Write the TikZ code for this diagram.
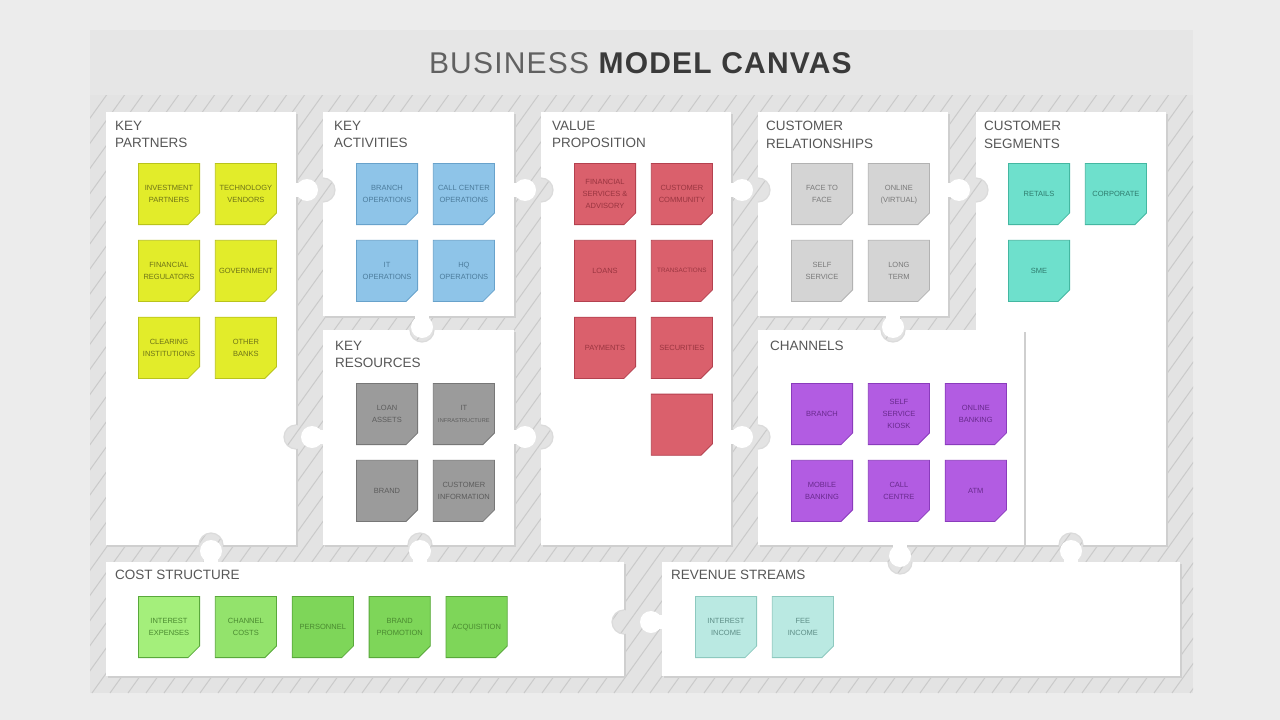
\documentclass[tikz,border=0pt]{standalone}
\usepackage{fontspec}
\setmainfont{Liberation Sans}
\newfontfamily\headfont[LetterSpace=4.0]{Liberation Sans}
\usetikzlibrary{positioning}

\definecolor{outerbg}{HTML}{ECECEC}
\definecolor{bandbg}{HTML}{E6E6E6}
\definecolor{hatchbase}{HTML}{E3E3E3}
\definecolor{hatchline}{HTML}{CACACA}
\definecolor{headgrey}{HTML}{3A3A3A}
\definecolor{cardgrey}{HTML}{575757}
\definecolor{cardshade}{HTML}{CFCFCF}
\definecolor{kpfill}{HTML}{E2EC2A}\definecolor{kpedge}{HTML}{B9C31C}\definecolor{kptext}{HTML}{6E7318}
\definecolor{kafill}{HTML}{8EC4E8}\definecolor{kaedge}{HTML}{68A2CB}\definecolor{katext}{HTML}{4C7C9C}
\definecolor{vpfill}{HTML}{DA606C}\definecolor{vpedge}{HTML}{B4414F}\definecolor{vptext}{HTML}{9A3540}
\definecolor{crfill}{HTML}{D4D4D4}\definecolor{credge}{HTML}{B2B2B2}\definecolor{crtext}{HTML}{7A7A7A}
\definecolor{csfill}{HTML}{6EE0CC}\definecolor{csedge}{HTML}{44B7A1}\definecolor{cstext}{HTML}{2F7C6E}
\definecolor{krfill}{HTML}{9B9B9B}\definecolor{kredge}{HTML}{777777}\definecolor{krtext}{HTML}{5C5C5C}
\definecolor{chfill}{HTML}{B25CE2}\definecolor{chedge}{HTML}{8A3BBC}\definecolor{chtext}{HTML}{692A8E}
\definecolor{cofill}{HTML}{7ED659}\definecolor{colight}{HTML}{A4EF7B}\definecolor{comid}{HTML}{93E36C}\definecolor{coedge}{HTML}{59A83B}\definecolor{cotext}{HTML}{4A8A30}
\definecolor{rsfill}{HTML}{BAE9E2}\definecolor{rsedge}{HTML}{8DC9BF}\definecolor{rstext}{HTML}{5E8E87}

% sticky note paper: square with the lower right corner cut off
\newcommand\notepaper[2]{%
	\filldraw[fill=#1, draw=#2, line width=0.8pt]
		([shift={(0.4pt,-0.4pt)}]path picture bounding box.north west)
		-- ([shift={(-0.4pt,-0.4pt)}]path picture bounding box.north east)
		-- ([shift={(-0.4pt,12pt)}]path picture bounding box.south east)
		-- ([shift={(-12pt,0.4pt)}]path picture bounding box.south east)
		-- ([shift={(0.4pt,0.4pt)}]path picture bounding box.south west) -- cycle;
}
% note text in a box of zero width, so every note keeps the same size
\newcommand\notetext[1]{\hbox to 0pt{\hss\begin{tabular}{@{}c@{}}#1\end{tabular}\hss}}

\tikzstyle{note} = [rectangle, minimum width=62pt, minimum height=62pt, inner sep=0pt, font=\fontsize{7.5}{12}\selectfont]
\tikzstyle{kpnote} = [note, path picture={\notepaper{kpfill}{kpedge}}, text=kptext]
\tikzstyle{kanote} = [note, path picture={\notepaper{kafill}{kaedge}}, text=katext]
\tikzstyle{vpnote} = [note, path picture={\notepaper{vpfill}{vpedge}}, text=vptext]
\tikzstyle{crnote} = [note, path picture={\notepaper{crfill}{credge}}, text=crtext]
\tikzstyle{csnote} = [note, path picture={\notepaper{csfill}{csedge}}, text=cstext]
\tikzstyle{krnote} = [note, path picture={\notepaper{krfill}{kredge}}, text=krtext]
\tikzstyle{chnote} = [note, path picture={\notepaper{chfill}{chedge}}, text=chtext]
\tikzstyle{conote} = [note, path picture={\notepaper{cofill}{coedge}}, text=cotext]
\tikzstyle{colightnote} = [note, path picture={\notepaper{colight}{coedge}}, text=cotext]
\tikzstyle{comidnote} = [note, path picture={\notepaper{comid}{coedge}}, text=cotext]
\tikzstyle{rsnote} = [note, path picture={\notepaper{rsfill}{rsedge}}, text=rstext]
\tikzstyle{cardtitle} = [anchor=north west, inner sep=0pt, align=left, text=cardgrey, font=\fontsize{13.5}{17.5}\selectfont]
\tikzstyle{hatchstripe} = [draw=hatchline, line width=1pt]
\tikzstyle{slotrim} = [draw=black!14, line width=1.2pt]

\newcommand\hatchpattern{%
	\fill[hatchbase] (90,95) rectangle (1193,693);
	\foreach \hx in {-340,-322,...,1194}
		\draw[hatchstripe] (\hx,693) -- ++(430,-600);
}
\newcommand\canvascard[4]{%
	\fill[cardshade] (#1+1.5,#2+2) rectangle (#3+1.5,#4+2);
	\fill[white] (#1,#2) rectangle (#3,#4);
}
% x, y, direction into the card
\newcommand\puzzleslot[3]{%
	\begin{scope}
		\clip (#1,#2) circle (12);
		\hatchpattern
	\end{scope}
	\begin{scope}[shift={(#1,#2)}, rotate=#3]
		\draw[slotrim] (0,-12) arc (-90:90:12);
	\end{scope}
}
% x, y, direction out of the card
\newcommand\puzzletab[3]{%
	\begin{scope}[shift={(#1,#2)}, rotate=#3]
		\fill[white] (-1,-7) rectangle (10,7);
		\fill[white] (11,0) circle (11);
	\end{scope}
}

\begin{document}
\begin{tikzpicture}[x=1pt, y=-1pt, node distance=14.5pt]
	\useasboundingbox (0,0) rectangle (1280,720);
	\fill[outerbg] (0,0) rectangle (1280,720);
	\fill[bandbg] (90,30) rectangle (1193,95);
	\begin{scope}
		\clip (90,95) rectangle (1193,693);
		\hatchpattern
	\end{scope}
	\node (canvasTitle) [anchor=base, text=headgrey, font=\headfont\fontsize{30}{36}\selectfont] at (641,73) {{\color{headgrey!80}BUSINESS} \textbf{MODEL CANVAS}};

	% cards
	\canvascard{106}{112}{296}{545}
	\canvascard{323}{112}{514}{316}
	\canvascard{323}{330}{514}{545}
	\canvascard{541}{112}{731}{545}
	\canvascard{758}{112}{948}{316}
	\canvascard{976}{112}{1166}{545}
	\canvascard{758}{330}{1024}{545}
	\canvascard{106}{562}{624}{676}
	\canvascard{662}{562}{1180}{676}

	% puzzle joints
	\puzzleslot{323}{190}{0}
	\puzzleslot{541}{190}{0}
	\puzzleslot{758}{190}{0}
	\puzzleslot{976}{190}{0}
	\puzzleslot{296}{437}{180}
	\puzzleslot{541}{437}{0}
	\puzzleslot{758}{437}{0}
	\puzzleslot{422}{330}{-90}
	\puzzleslot{893}{330}{-90}
	\puzzleslot{211}{545}{90}
	\puzzleslot{420}{545}{90}
	\puzzleslot{624}{622}{180}
	\puzzleslot{900}{562}{-90}
	\puzzleslot{1071}{545}{90}
	\puzzletab{296}{190}{0}
	\puzzletab{514}{190}{0}
	\puzzletab{731}{190}{0}
	\puzzletab{948}{190}{0}
	\puzzletab{323}{437}{180}
	\puzzletab{514}{437}{0}
	\puzzletab{731}{437}{0}
	\puzzletab{422}{316}{-90}
	\puzzletab{893}{316}{-90}
	\puzzletab{211}{562}{90}
	\puzzletab{420}{562}{90}
	\puzzletab{662}{622}{180}
	\puzzletab{900}{545}{-90}
	\puzzletab{1071}{562}{90}

	% titles
	\node (kpTitle) [cardtitle] at (115,121) {KEY\\PARTNERS};
	\node (kaTitle) [cardtitle] at (334,121) {KEY\\ACTIVITIES};
	\node (vpTitle) [cardtitle] at (552,121) {VALUE\\PROPOSITION};
	\node (crTitle) [cardtitle] at (766,121) {CUSTOMER\\RELATIONSHIPS};
	\node (csTitle) [cardtitle] at (984,121) {CUSTOMER\\SEGMENTS};
	\node (krTitle) [cardtitle] at (335,341) {KEY\\RESOURCES};
	\node (chTitle) [cardtitle] at (770,341) {CHANNELS};
	\node (coTitle) [cardtitle] at (115,570) {COST STRUCTURE};
	\node (rsTitle) [cardtitle] at (671,570) {REVENUE STREAMS};

	% key partners
	\node (kpInvest) [kpnote] at (169,194) {\notetext{INVESTMENT\\PARTNERS}};
	\node (kpTech) [kpnote, right = of kpInvest] {\notetext{TECHNOLOGY\\VENDORS}};
	\node (kpReg) [kpnote, below = of kpInvest] {\notetext{FINANCIAL\\REGULATORS}};
	\node (kpGov) [kpnote, right = of kpReg] {\notetext{GOVERNMENT}};
	\node (kpClear) [kpnote, below = of kpReg] {\notetext{CLEARING\\INSTITUTIONS}};
	\node (kpBanks) [kpnote, right = of kpClear] {\notetext{OTHER\\BANKS}};

	% key activities
	\node (kaBranch) [kanote] at (387,194) {\notetext{BRANCH\\OPERATIONS}};
	\node (kaCall) [kanote, right = of kaBranch] {\notetext{CALL CENTER\\OPERATIONS}};
	\node (kaIt) [kanote, below = of kaBranch] {\notetext{IT\\OPERATIONS}};
	\node (kaHq) [kanote, right = of kaIt] {\notetext{HQ\\OPERATIONS}};

	% key resources
	\node (krLoan) [krnote] at (387,414) {\notetext{LOAN\\ASSETS}};
	\node (krIt) [krnote, right = of krLoan] {\notetext{IT\\{\fontsize{5.6}{9}\selectfont INFRASTRUCTURE}}};
	\node (krBrand) [krnote, below = of krLoan] {\notetext{BRAND}};
	\node (krInfo) [krnote, right = of krBrand] {\notetext{CUSTOMER\\INFORMATION}};

	% value proposition
	\node (vpAdvice) [vpnote] at (605,194) {\notetext{FINANCIAL\\SERVICES \&\\ADVISORY}};
	\node (vpCommunity) [vpnote, right = of vpAdvice] {\notetext{CUSTOMER\\COMMUNITY}};
	\node (vpLoans) [vpnote, below = of vpAdvice] {\notetext{LOANS}};
	\node (vpTrans) [vpnote, right = of vpLoans, font=\fontsize{6.3}{10}\selectfont] {\notetext{TRANSACTIONS}};
	\node (vpPay) [vpnote, below = of vpLoans] {\notetext{PAYMENTS}};
	\node (vpSec) [vpnote, right = of vpPay] {\notetext{SECURITIES}};
	\node (vpBlank) [vpnote, below = of vpSec] {};

	% customer relationships
	\node (crFace) [crnote] at (822,194) {\notetext{FACE TO\\FACE}};
	\node (crOnline) [crnote, right = of crFace] {\notetext{ONLINE\\(VIRTUAL)}};
	\node (crSelf) [crnote, below = of crFace] {\notetext{SELF\\SERVICE}};
	\node (crLong) [crnote, right = of crSelf] {\notetext{LONG\\TERM}};

	% customer segments
	\node (csRetail) [csnote] at (1039,194) {\notetext{RETAILS}};
	\node (csCorp) [csnote, right = of csRetail] {\notetext{CORPORATE}};
	\node (csSme) [csnote, below = of csRetail] {\notetext{SME}};

	% channels
	\node (chBranch) [chnote] at (822,414) {\notetext{BRANCH}};
	\node (chKiosk) [chnote, right = of chBranch] {\notetext{SELF\\SERVICE\\KIOSK}};
	\node (chOnline) [chnote, right = of chKiosk] {\notetext{ONLINE\\BANKING}};
	\node (chMobile) [chnote, below = of chBranch] {\notetext{MOBILE\\BANKING}};
	\node (chCall) [chnote, right = of chMobile] {\notetext{CALL\\CENTRE}};
	\node (chAtm) [chnote, right = of chCall] {\notetext{ATM}};

	% cost structure
	\node (coInterest) [colightnote] at (169,627) {\notetext{INTEREST\\EXPENSES}};
	\node (coChannel) [comidnote, right = of coInterest] {\notetext{CHANNEL\\COSTS}};
	\node (coStaff) [conote, right = of coChannel] {\notetext{PERSONNEL}};
	\node (coBrand) [conote, right = of coStaff] {\notetext{BRAND\\PROMOTION}};
	\node (coAcq) [conote, right = of coBrand] {\notetext{ACQUISITION}};

	% revenue streams
	\node (rsInterest) [rsnote] at (726,627) {\notetext{INTEREST\\INCOME}};
	\node (rsFee) [rsnote, right = of rsInterest] {\notetext{FEE\\INCOME}};
\end{tikzpicture}
\end{document}
